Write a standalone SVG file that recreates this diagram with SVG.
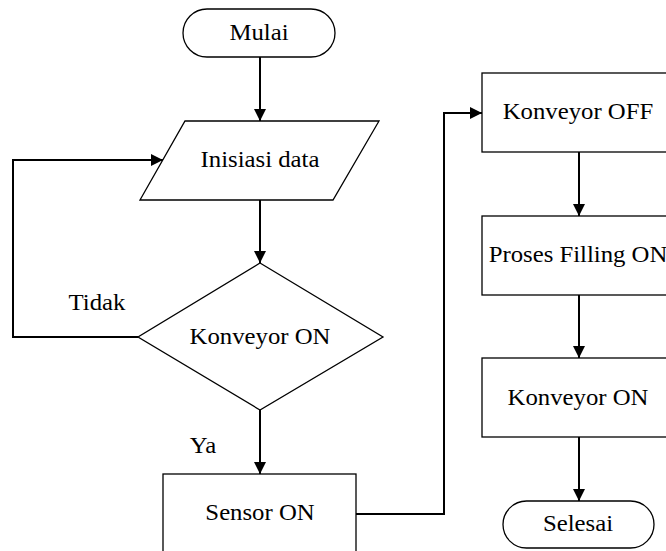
<svg xmlns="http://www.w3.org/2000/svg" width="666" height="551" viewBox="0 0 666 551">
  <style>
    .shape { fill: #ffffff; stroke: #000000; stroke-width: 1.3; }
    .link { fill: none; stroke: #000000; stroke-width: 2; }
    .label { font-family: 'Liberation Serif', 'Times New Roman', Times, 'DejaVu Serif', serif; font-size: 22.5px; fill: #000000; text-anchor: middle; }
  </style>
  <defs>
    <marker id="arrow" viewBox="0 0 12 12" refX="12" refY="6" markerWidth="12" markerHeight="12" markerUnits="userSpaceOnUse" orient="auto">
      <path d="M0,0 L12,6 L0,12 Z" fill="#000000"/>
    </marker>
  </defs>

  <g id="connectors">
    <line class="link" x1="260" y1="57" x2="260" y2="121" marker-end="url(#arrow)"/>
    <line class="link" x1="260" y1="200" x2="260" y2="263" marker-end="url(#arrow)"/>
    <polyline class="link" points="138,337 13,337 13,160 163,160" marker-end="url(#arrow)"/>
    <line class="link" x1="260" y1="410" x2="260" y2="474" marker-end="url(#arrow)"/>
    <polyline class="link" points="356,514 444,514 444,113 482,113" marker-end="url(#arrow)"/>
    <line class="link" x1="579" y1="152" x2="579" y2="216" marker-end="url(#arrow)"/>
    <line class="link" x1="579" y1="295" x2="579" y2="358" marker-end="url(#arrow)"/>
    <line class="link" x1="579" y1="437" x2="579" y2="501" marker-end="url(#arrow)"/>
  </g>

  <!-- labels are drawn slightly wide: translate to anchor, then stretch horizontally -->
  <g id="mulai">
    <rect class="shape" x="183" y="9" width="152" height="48" rx="24" ry="24"/>
    <text class="label" transform="translate(259,40) scale(1.1,1)">Mulai</text>
  </g>

  <g id="inisiasi-data">
    <polygon class="shape" points="185,121 379,121 333,200 140,200"/>
    <text class="label" transform="translate(260,167) scale(1.1,1)">Inisiasi data</text>
  </g>

  <g id="konveyor-on-check">
    <polygon class="shape" points="260,263 383,337 260,410 138,337"/>
    <text class="label" transform="translate(260,344) scale(1.1,1)">Konveyor ON</text>
  </g>

  <g id="label-tidak">
    <text class="label" transform="translate(97,310) scale(1.1,1)">Tidak</text>
  </g>

  <g id="label-ya">
    <text class="label" transform="translate(203,453) scale(1.1,1)">Ya</text>
  </g>

  <g id="sensor-on">
    <rect class="shape" x="163" y="474" width="193" height="100"/>
    <text class="label" transform="translate(260,520) scale(1.1,1)">Sensor ON</text>
  </g>

  <g id="konveyor-off">
    <rect class="shape" x="482" y="73" width="194" height="79"/>
    <text class="label" transform="translate(578,119) scale(1.1,1)">Konveyor OFF</text>
  </g>

  <g id="proses-filling-on">
    <rect class="shape" x="482" y="216" width="194" height="79"/>
    <text class="label" transform="translate(578,262) scale(1.1,1)">Proses Filling ON</text>
  </g>

  <g id="konveyor-on">
    <rect class="shape" x="482" y="358" width="194" height="79"/>
    <text class="label" transform="translate(578,405) scale(1.1,1)">Konveyor ON</text>
  </g>

  <g id="selesai">
    <rect class="shape" x="503" y="501" width="151" height="47" rx="23.5" ry="23.5"/>
    <text class="label" transform="translate(578,531) scale(1.1,1)">Selesai</text>
  </g>
</svg>
